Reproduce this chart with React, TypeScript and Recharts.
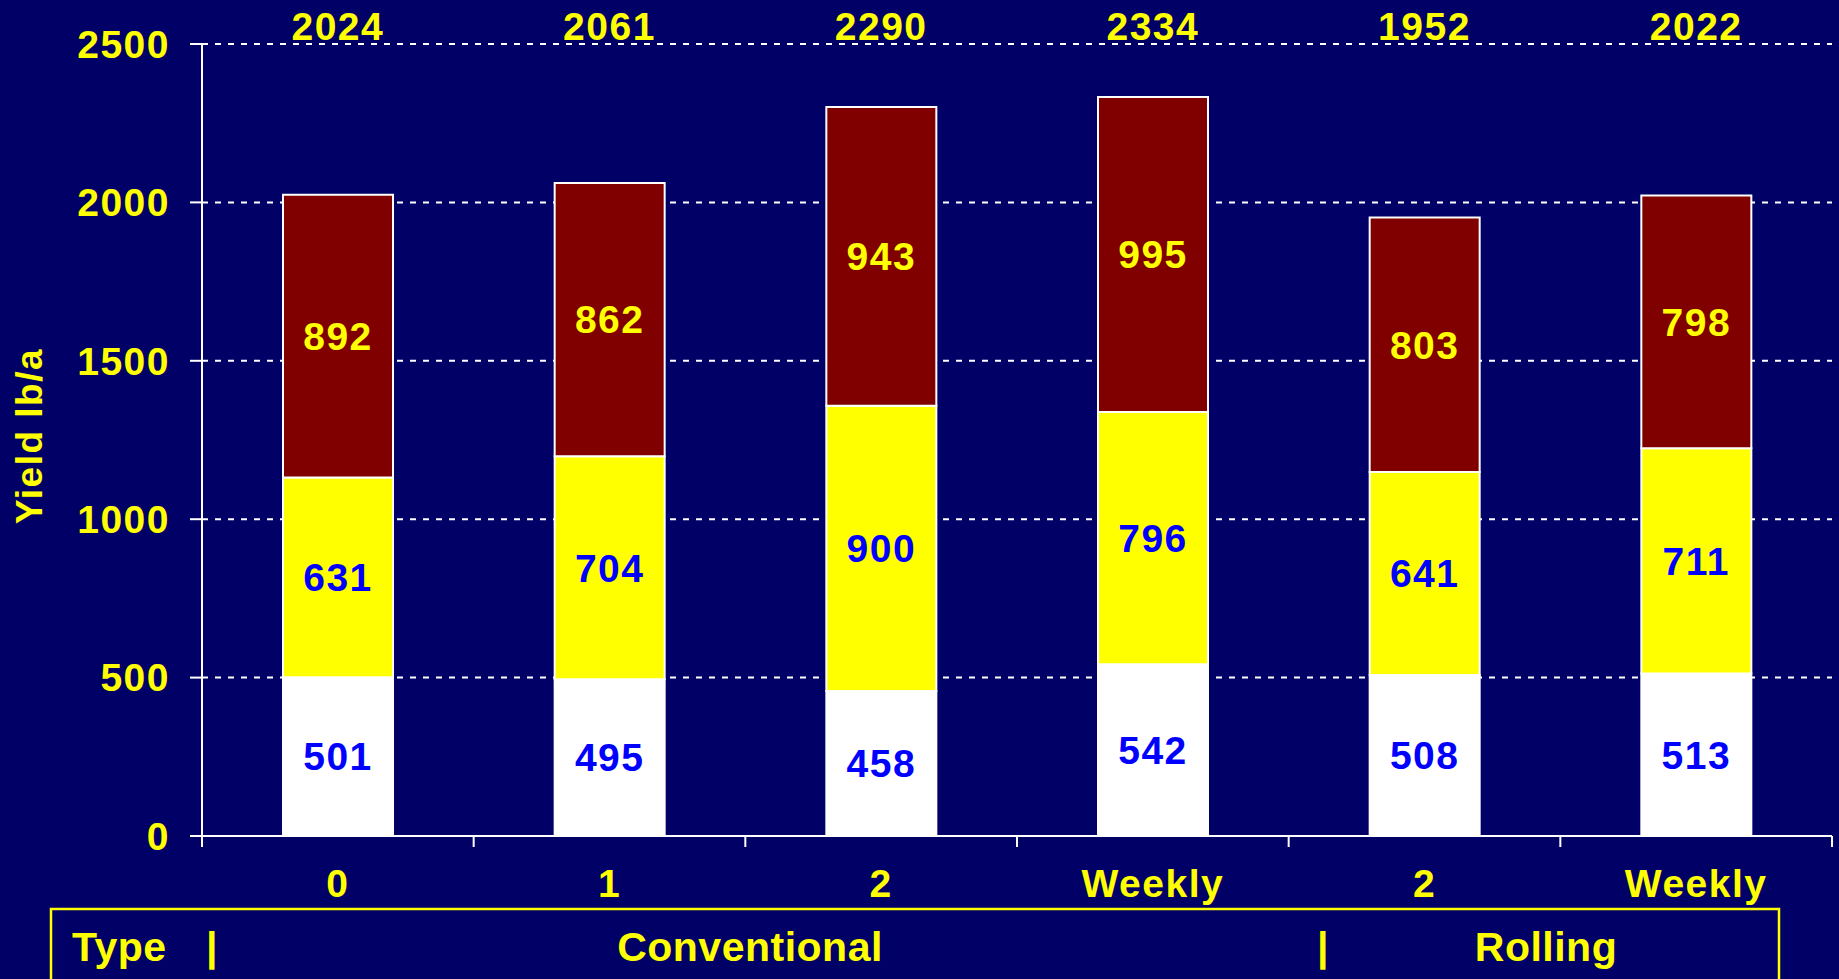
import React from 'react';
import { BarChart, Bar, XAxis, YAxis, CartesianGrid, LabelList } from 'recharts';

const categories = ['0', '1', '2', 'Weekly', '2', 'Weekly'];
const lowerYield = [501, 495, 458, 542, 508, 513];
const middleYield = [631, 704, 900, 796, 641, 711];
const upperYield = [892, 862, 943, 995, 803, 798];
const totalLabels = ['2024', '2061', '2290', '2334', '1952', '2022'];
const yTicks = [0, 500, 1000, 1500, 2000, 2500];
const yLabel = 'Yield lb/a';
const typeTitle = 'Type';
const typeGroups = ['Conventional', 'Rolling'];

const BG = '#000066';
const YELLOW = '#FFFF00';
const MAROON = '#800000';
const BLUE = '#0000FF';
const WHITE = '#FFFFFF';
const FONT = '"Liberation Sans", Arial, Helvetica, sans-serif';

const data = categories.map((c, i) => ({
  cat: i,
  total: totalLabels[i],
  lower: lowerYield[i],
  middle: middleYield[i],
  upper: upperYield[i],
}));

const textStyle = { fontFamily: FONT, fontWeight: 700, fontSize: 39, letterSpacing: 1.5 };

const BottomTick = (props: any) => {
  const { x, y, payload, index, visibleTicksCount, width } = props;
  const half =
    payload && typeof payload.offset === 'number' && payload.offset > 0
      ? payload.offset
      : width / visibleTicksCount / 2;
  return (
    <g>
      <line x1={x - half} x2={x - half} y1={y} y2={y + 11} stroke={WHITE} strokeWidth={2} />
      {index === visibleTicksCount - 1 && (
        <line x1={x + half} x2={x + half} y1={y} y2={y + 11} stroke={WHITE} strokeWidth={2} />
      )}
      <text x={x} y={y + 61} textAnchor="middle" fill={YELLOW} style={textStyle}>
        {categories[payload.value]}
      </text>
    </g>
  );
};

export default function App() {
  return (
    <div
      style={{
        position: 'fixed',
        left: 0,
        top: 0,
        width: 1839,
        height: 979,
        background: BG,
        overflow: 'hidden',
      }}
    >
      <BarChart
        width={1839}
        height={979}
        data={data}
        margin={{ top: 0, right: 7, bottom: 83, left: 0 }}
        barSize={110}
      >
        <CartesianGrid
          vertical={false}
          stroke={WHITE}
          strokeWidth={2}
          strokeDasharray="6 7"
          yAxisId="y"
          xAxisId="cat"
        />
        <XAxis
          xAxisId="top"
          orientation="top"
          dataKey="total"
          height={44}
          tickSize={0}
          tickMargin={4}
          axisLine={false}
          tickLine={false}
          interval={0}
          tick={{ ...textStyle, fill: YELLOW }}
        />
        <XAxis
          xAxisId="cat"
          dataKey="cat"
          interval={0}
          height={60}
          tickSize={0}
          tickMargin={0}
          tickLine={false}
          axisLine={{ stroke: WHITE, strokeWidth: 2 }}
          tick={<BottomTick />}
        />
        <YAxis
          yAxisId="y"
          width={202}
          domain={[0, 2500]}
          ticks={yTicks}
          interval={0}
          tickSize={12}
          tickMargin={20}
          axisLine={{ stroke: WHITE, strokeWidth: 2 }}
          tickLine={{ stroke: WHITE, strokeWidth: 2 }}
          tick={{ ...textStyle, fill: YELLOW }}
        />
        <Bar dataKey="lower" stackId="a" xAxisId="cat" yAxisId="y" fill={WHITE} stroke={WHITE} strokeWidth={2} isAnimationActive={false}>
          <LabelList dataKey="lower" position="center" fill={BLUE} style={textStyle} />
        </Bar>
        <Bar dataKey="middle" stackId="a" xAxisId="cat" yAxisId="y" fill={YELLOW} stroke={WHITE} strokeWidth={2} isAnimationActive={false}>
          <LabelList dataKey="middle" position="center" fill={BLUE} style={textStyle} />
        </Bar>
        <Bar dataKey="upper" stackId="a" xAxisId="cat" yAxisId="y" fill={MAROON} stroke={WHITE} strokeWidth={2} isAnimationActive={false}>
          <LabelList dataKey="upper" position="center" fill={YELLOW} style={textStyle} />
        </Bar>
      </BarChart>
      <svg
        width={1839}
        height={979}
        style={{ position: 'absolute', left: 0, top: 0, pointerEvents: 'none' }}
      >
        <text
          x={29}
          y={436}
          transform="rotate(-90 29 436)"
          textAnchor="middle"
          dominantBaseline="central"
          fill={YELLOW}
          style={{ fontFamily: FONT, fontWeight: 700, fontSize: 37, letterSpacing: 1.5 }}
        >
          {yLabel}
        </text>
        <rect x={51} y={909} width={1728} height={120} fill="none" stroke={YELLOW} strokeWidth={2.5} />
        <g fill={YELLOW} style={{ fontFamily: FONT, fontWeight: 700, fontSize: 41, letterSpacing: 0.5 }}>
          <text x={72} y={961}>{typeTitle}</text>
          <text x={212} y={961} textAnchor="middle">|</text>
          <text x={750} y={961} textAnchor="middle">{typeGroups[0]}</text>
          <text x={1323} y={961} textAnchor="middle">|</text>
          <text x={1546} y={961} textAnchor="middle">{typeGroups[1]}</text>
        </g>
      </svg>
    </div>
  );
}
